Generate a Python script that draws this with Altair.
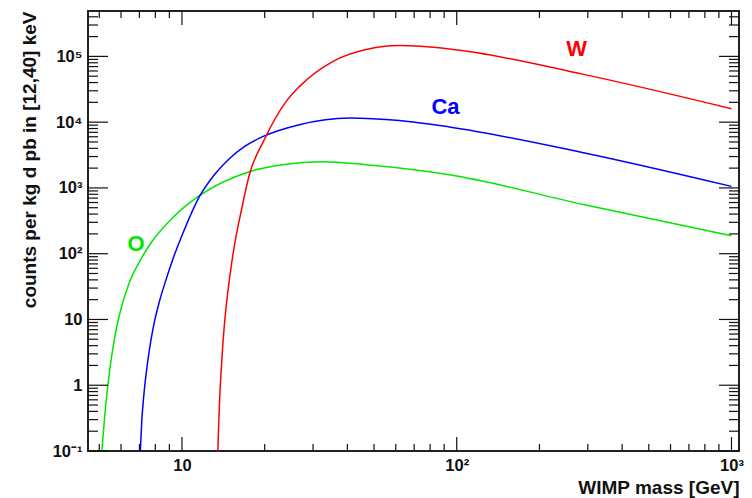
import altair as alt
import pandas as pd

# ---- data ----
mass_O = [5.11, 5.22, 5.35, 5.49, 5.67, 5.92, 6.43, 7.00, 7.72, 9.25, 11.57, 17.59, 23.2,
          32.4, 46.9, 94, 292, 1000]
rate_O = [0.1, 0.296, 0.848, 2.04, 4.89, 11.7, 36.1, 75.3, 146.6, 352, 761, 1765, 2255,
          2505, 2255, 1588, 554, 187]

mass_Ca = [7.055, 7.14, 7.26, 7.42, 7.61, 7.87, 8.27, 8.70, 9.25, 10.2, 11.57, 13.12, 14.87,
           16.87, 19.66, 26.74, 40.6, 61.9, 94, 292, 1000]
rate_Ca = [0.1, 0.286, 0.687, 1.59, 3.45, 7.72, 18.5, 37.3, 80.8, 231, 735, 1588, 2782,
           4236, 6016, 9162, 11600, 10600, 8450, 3400, 1055]

mass_W = [13.51, 13.60, 13.71, 13.88, 14.08, 14.38, 14.75, 15.19, 15.70, 16.41, 17.59, 19.94,
          23.92, 26.74, 35.35, 46.8, 61.9, 94, 292, 1000]
rate_W = [0.1, 0.249, 0.598, 1.59, 4.11, 11.75, 30.3, 75.3, 174.6, 434, 1588, 5415,
          20500, 34700, 83400, 126900, 146000, 130000, 52800, 16000]

targets = ["O", "Ca", "W"]
colors = ["#00e600", "#0000ff", "#ff0000"]

label_text = ["O", "Ca", "W"]
label_mass = [6.8, 91, 273]
label_rate = [140, 17200, 131000]

x_major = [10, 100, 1000]
x_minor = [5, 6, 7, 8, 9, 20, 30, 40, 50, 60, 70, 80, 90,
           200, 300, 400, 500, 600, 700, 800, 900]
y_major = [0.1, 1, 10, 100, 1e3, 1e4, 1e5]
y_minor = [m * d for d in [0.1, 1, 10, 100, 1e3, 1e4] for m in range(2, 10)] + [2e5, 3e5, 4e5]

x_domain = [4.55, 1065]
y_domain = [0.1, 4.9e5]

W, H = 651, 440
FONT = "Liberation Sans"

rows = []
for t, ms, rs in [("O", mass_O, rate_O), ("Ca", mass_Ca, rate_Ca), ("W", mass_W, rate_W)]:
    for m, r in zip(ms, rs):
        rows.append({"target": t, "mass": m, "rate": r})
curves = pd.DataFrame(rows)
labels = pd.DataFrame({"text": label_text, "mass": label_mass, "rate": label_rate})

xs = alt.Scale(type="log", domain=x_domain, nice=False)
ys = alt.Scale(type="log", domain=y_domain, nice=False)
cs = alt.Scale(domain=targets, range=colors)

x_label_expr = "datum.value < 50 ? '10' : datum.value < 500 ? '10²' : '10³'"
y_label_expr = ("datum.value < 0.5 ? '10⁻¹' : datum.value < 5 ? '1' : datum.value < 50 ? '10' : "
                "datum.value < 500 ? '10²' : datum.value < 5000 ? '10³' : datum.value < 50000 ? '10⁴' : '10⁵'")

x_axis = alt.Axis(
    orient="bottom", values=x_major, labelExpr=x_label_expr, ticks=False, domain=False, grid=False,
    labelFont=FONT, labelFontWeight="bold", labelFontSize=16.5, labelColor="#111",
    labelPadding=6, labelFlush=False,
    title="WIMP mass [GeV]", titleFont=FONT, titleFontWeight="bold", titleFontSize=19,
    titleColor="#111", titleAnchor="end", titlePadding=5)
y_axis = alt.Axis(
    orient="left", values=y_major, labelExpr=y_label_expr, ticks=False, domain=False, grid=False,
    labelFont=FONT, labelFontWeight="bold", labelFontSize=16.5, labelColor="#111",
    labelPadding=6, labelFlush=False,
    title="counts per kg d pb in [12,40] keV", titleFont=FONT, titleFontWeight="bold",
    titleFontSize=19, titleColor="#111", titleAnchor="end", titlePadding=13)

lines = alt.Chart(curves).mark_line(interpolate="monotone", strokeWidth=1.5, clip=True).encode(
    x=alt.X("mass:Q", scale=xs, axis=x_axis),
    y=alt.Y("rate:Q", scale=ys, axis=y_axis),
    color=alt.Color("target:N", scale=cs, legend=None),
    order=alt.Order("mass:Q"),
)

txt = alt.Chart(labels).mark_text(font=FONT, fontSize=22, fontWeight="bold").encode(
    x=alt.X("mass:Q", scale=xs, axis=x_axis),
    y=alt.Y("rate:Q", scale=ys, axis=y_axis),
    text="text:N",
    color=alt.Color("text:N", scale=cs, legend=None),
)

def xticks(vals, length):
    df = pd.DataFrame({"mass": vals})
    base = alt.Chart(df).mark_rule(color="#111", strokeWidth=1.2)
    bot = base.encode(x=alt.X("mass:Q", scale=xs, axis=x_axis), y=alt.value(H), y2=alt.value(H - length))
    top = base.encode(x=alt.X("mass:Q", scale=xs, axis=x_axis), y=alt.value(0), y2=alt.value(length))
    return [bot, top]

def yticks(vals, length):
    df = pd.DataFrame({"rate": vals})
    base = alt.Chart(df).mark_rule(color="#111", strokeWidth=1.2)
    left = base.encode(y=alt.Y("rate:Q", scale=ys, axis=y_axis), x=alt.value(0), x2=alt.value(length))
    right = base.encode(y=alt.Y("rate:Q", scale=ys, axis=y_axis), x=alt.value(W), x2=alt.value(W - length))
    return [left, right]

layers = [lines, txt] + xticks(x_major, 14) + xticks(x_minor, 7) + yticks(y_major, 20) + yticks(y_minor, 10)

chart = alt.layer(*layers).properties(
    width=W, height=H,
    autosize=alt.AutoSizeParams(type="none"),
    padding={"left": 88, "top": 11, "right": 13, "bottom": 47},
    background="white",
).configure_view(stroke="#222", strokeWidth=2)

chart.save("out.html", embed_options={"renderer": "svg", "actions": False})
